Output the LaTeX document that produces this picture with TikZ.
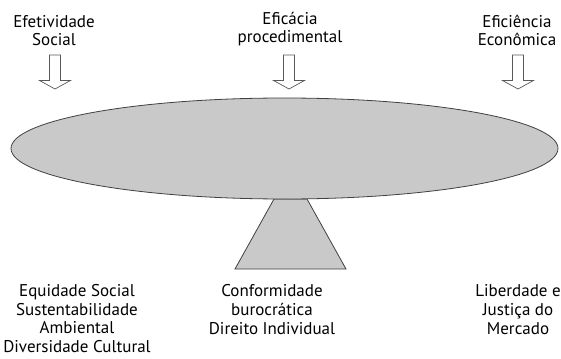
\documentclass[tikz,border=0pt]{standalone}
\usepackage{fontspec}
\setmainfont{PT Sans}

\begin{document}
\begin{tikzpicture}[
        x=1pt, y=-1pt,
        txt/.style={align=center, anchor=base, inner sep=0pt,
                font=\fontsize{17}{18.6}\selectfont}, % Textos (base = última linha)
        pil/.style={draw=black!65, fill=white, line width=0.7pt, line join=miter}, % Setas
        peca/.style={draw=black!75, fill=black!21, line width=0.8pt},
    ]
    \useasboundingbox (0,0) rectangle (561,358);

    % Critérios no topo
    \node[txt] (efet) at (54,46) {Efetividade\\Social};
    \node[txt] (efic) at (290,43) {Eficácia\\procedimental};
    \node[txt] (efin) at (517,46) {Eficiência\\Econômica};

    % Setas
    \foreach \nome/\x in {s1/55, s2/289, s3/518} {
        \coordinate (\nome) at (\x,55);
        \draw[pil] (\nome) ++(-5.5,0) -- ++(0,25.5) -- ++(-10,0) -- ++(15.5,8.5)
            -- ++(15.5,-8.5) -- ++(-10,0) -- ++(0,-25.5) -- cycle;
    }

    % Balança
    \draw[peca] (274,199) -- (307,199) -- (346,269) -- (235,269) -- cycle;
    \draw[peca] (284.5,148.5) ellipse [x radius=273.5, y radius=50.5];

    % Valores
    \node[txt] (esq) at (77,352.5) {Equidade Social\\Sustentabilidade\\Ambiental\\Diversidade Cultural};
    \node[txt] (meio) at (272,334) {Conformidade\\burocrática\\Direito Individual};
    \node[txt] (dir) at (518,334) {Liberdade e\\Justiça do\\Mercado};

\end{tikzpicture}
\end{document}
